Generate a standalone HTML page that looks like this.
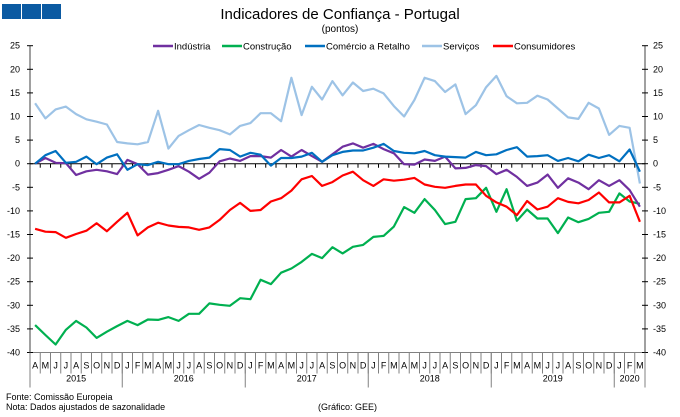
<!DOCTYPE html>
<html><head><meta charset="utf-8"><style>
body{margin:0;background:#fff;}
svg{display:block;font-family:"Liberation Sans",Arial,sans-serif;}
</style></head><body>
<svg id="chart" width="680" height="417" viewBox="0 0 680 417" xmlns="http://www.w3.org/2000/svg">
<g>
<rect x="2" y="4" width="19" height="15" fill="#0b5aa2"/><rect x="22" y="4" width="19" height="15" fill="#0b5aa2"/><rect x="42" y="4" width="19" height="15" fill="#0b5aa2"/>
</g>
<text x="340" y="19" font-size="15" text-anchor="middle">Indicadores de Confiança - Portugal</text>
<text x="340" y="32" font-size="10" text-anchor="middle">(pontos)</text>
<g id="legend"></g>
<g id="axes"></g>
<g id="series"></g>
<text x="6" y="400" font-size="9">Fonte: Comissão Europeia</text>
<text x="6" y="410" font-size="9">Nota: Dados ajustados de sazonalidade</text>
<text x="318" y="410" font-size="9">(Gráfico: GEE)</text>
</svg>
<script>
const months=["A","M","J","J","A","S","O","N","D","J","F","M","A","M","J","J","A","S","O","N","D","J","F","M","A","M","J","J","A","S","O","N","D","J","F","M","A","M","J","J","A","S","O","N","D","J","F","M","A","M","J","J","A","S","O","N","D","J","F","M"];
const years=["2015","2016","2017","2018","2019","2020"];
const yearMonths=[9,12,12,12,12,3];
const yTicks=[25,20,15,10,5,0,-5,-10,-15,-20,-25,-30,-35,-40];
const seriesNames=["Indústria","Construção","Comércio a Retalho","Serviços","Consumidores"];
const industria=[0,1.2,0.2,0.1,-2.4,-1.6,-1.3,-1.6,-2.2,0.8,-0.1,-2.3,-2.0,-1.3,-0.5,-1.7,-3.2,-1.9,0.5,1.1,0.6,1.6,1.6,1.3,2.9,1.5,2.9,1.6,0.4,2.0,3.6,4.3,3.4,4.2,3.1,2.2,-0.1,-0.2,0.9,0.6,1.5,-1.0,-0.9,-0.3,-0.5,-2.2,-1.3,-2.8,-4.7,-4.0,-2.3,-5.1,-3.1,-4.0,-5.4,-3.5,-4.7,-3.5,-5.6,-9.1];
const construcao=[-34.2,-36.3,-38.3,-35.2,-33.3,-34.7,-36.9,-35.6,-34.4,-33.3,-34.2,-33.0,-33.1,-32.5,-33.3,-31.8,-31.8,-29.6,-29.9,-30.1,-28.5,-28.7,-24.6,-25.5,-23.1,-22.2,-20.8,-19.1,-20.0,-17.7,-19.0,-17.6,-17.2,-15.5,-15.3,-13.3,-9.2,-10.4,-7.5,-9.8,-12.8,-12.3,-7.5,-7.3,-5.1,-10.2,-5.4,-12.1,-9.7,-11.6,-11.6,-14.7,-11.4,-12.4,-11.7,-10.4,-10.2,-6.3,-8.0,-8.5];
const comercio=[0,1.8,2.7,0.2,0.4,1.5,-0.1,1.3,2.0,-1.3,-0.1,-0.3,0.4,-0.1,-0.1,0.6,1.0,1.3,3.1,2.9,1.5,2.3,1.9,-0.4,1.2,1.2,1.5,2.3,0.4,1.8,2.5,2.8,2.8,3.4,4.2,2.7,2.3,2.2,2.7,1.8,1.5,1.4,1.3,2.5,1.8,2.0,2.9,3.5,1.5,1.6,1.8,0.6,1.2,0.5,1.9,1.2,1.8,0.5,3.0,-1.7];
const servicos=[12.8,9.6,11.5,12.1,10.5,9.4,8.9,8.3,4.6,4.3,4.1,4.6,11.2,3.2,5.9,7.1,8.2,7.6,7.1,6.2,8.0,8.6,10.7,10.7,9.0,18.2,10.3,16.3,13.6,17.5,14.5,17.2,15.4,15.9,14.9,12.2,10.0,13.5,18.2,17.5,15.2,16.8,10.5,12.4,16.2,18.6,14.3,12.8,12.9,14.4,13.6,11.7,9.8,9.5,12.9,11.7,6.1,8.0,7.6,-4.2];
const consumidores=[-13.8,-14.4,-14.5,-15.7,-14.9,-14.2,-12.6,-14.3,-12.3,-10.4,-15.2,-13.5,-12.5,-13.1,-13.4,-13.5,-14.0,-13.5,-11.9,-9.8,-8.3,-10.0,-9.8,-8.0,-7.3,-5.7,-3.3,-2.6,-4.7,-3.9,-2.5,-1.7,-3.5,-4.7,-3.3,-3.6,-3.4,-3.0,-4.4,-4.9,-5.1,-4.7,-4.4,-4.4,-6.8,-8.2,-9.1,-10.9,-7.9,-9.7,-9.1,-7.3,-8.1,-8.4,-7.7,-6.1,-8.2,-8.2,-6.8,-12.3];
const colors=["#7030a0","#00b050","#0070c0","#9dc3e6","#ff0000"];

const NS="http://www.w3.org/2000/svg";
const X0=30,X1=645,YT=45.7,YB=352.5,VMAX=25,VMIN=-40;
const N=months.length, cw=(X1-X0)/N;
function xs(i){return X0+cw*(i+0.5);}
function ys(v){return YT+(VMAX-v)/(VMAX-VMIN)*(YB-YT);}
function mk(tag,attrs,parent){const e=document.createElementNS(NS,tag);for(const k in attrs)e.setAttribute(k,attrs[k]);parent.appendChild(e);return e;}
const axes=document.getElementById('axes'), ser=document.getElementById('series'), leg=document.getElementById('legend');
const ax="#808080";
let l=mk('line',{x1:X0,y1:YT,x2:X0,y2:YB,stroke:ax,'stroke-width':1.5},axes);


l=mk('line',{x1:X1,y1:YT,x2:X1,y2:YB,stroke:ax,'stroke-width':1.5},axes);


l=mk('line',{x1:X0,y1:ys(0),x2:X1,y2:ys(0),stroke:"#000",'stroke-width':1},axes);


l=mk('line',{x1:X0,y1:YB,x2:X1,y2:YB,stroke:ax,'stroke-width':1},axes);


yTicks.forEach(v=>{
  const y=ys(v);
  mk('line',{x1:X0-3,y1:y,x2:X0+3,y2:y,stroke:"#000"},axes);
  mk('line',{x1:X1-3,y1:y,x2:X1+3,y2:y,stroke:"#000"},axes);
  let t=mk('text',{x:X0-10,y:y+3,'font-size':9,'text-anchor':'end'},axes);t.textContent=v;
  
  
  t=mk('text',{x:X1+8,y:y+3,'font-size':9},axes);t.textContent=v;
  
  
});
months.forEach((m,i)=>{
  const xb=X0+cw*(i+1);
  if(i<N-1) mk('line',{x1:xb,y1:ys(0),x2:xb,y2:ys(0)+4,stroke:"#000"},axes);
  mk('line',{x1:X0+cw*i,y1:YB,x2:X0+cw*i,y2:YB+21,stroke:ax},axes);
  const t=mk('text',{x:xs(i),y:YB+16,'font-size':9,'text-anchor':'middle'},axes);t.textContent=m;
  
  
});
let acc=0;
years.forEach((yr,k)=>{
  const a=X0+cw*acc, b=X0+cw*(acc+yearMonths[k]);
  mk('line',{x1:a,y1:YB,x2:a,y2:YB+35,stroke:ax},axes);
  if(k==years.length-1) mk('line',{x1:b,y1:YB,x2:b,y2:YB+35,stroke:ax},axes);
  const t=mk('text',{x:(a+b)/2,y:YB+29,'font-size':9,'text-anchor':'middle'},axes);t.textContent=yr;
  
  
  acc+=yearMonths[k];
});
const data=[industria,construcao,comercio,servicos,consumidores];
const sNames=["industria-line","construcao-line","comercio-line","servicos-line","consumidores-line"];
const order=[3,1,4,0,2];
order.forEach(s=>{
  const pts=data[s].map((v,i)=>xs(i).toFixed(1)+","+ys(v).toFixed(1)).join(" ");
  const p=mk('polyline',{points:pts,fill:'none',stroke:colors[s],'stroke-width':2.2,'stroke-linejoin':'round'},ser);
  
  
});
const legX=[153,222,305,422,493];
seriesNames.forEach((n,s)=>{
  const g=mk('g',{},leg);
  
  
  mk('line',{x1:legX[s],y1:46,x2:legX[s]+20,y2:46,stroke:colors[s],'stroke-width':2.5},g);
  const t=mk('text',{x:legX[s]+21,y:49.5,'font-size':9.5},g);t.textContent=n;
});
</script>
</body></html>
